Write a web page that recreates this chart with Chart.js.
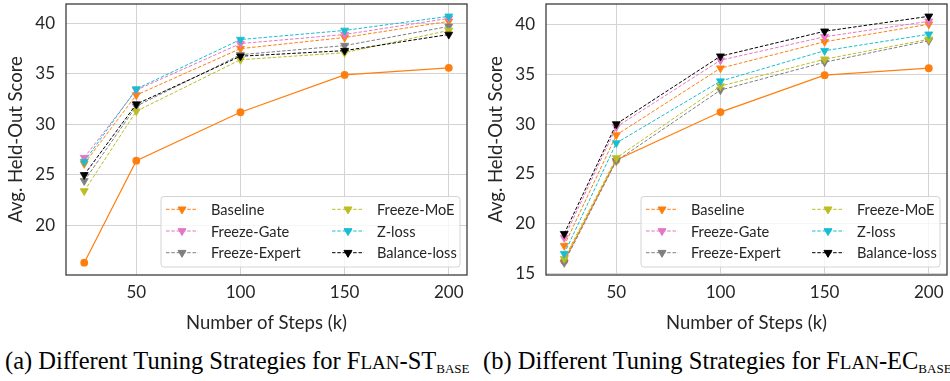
<!DOCTYPE html>
<html>
<head>
<meta charset="utf-8">
<script src="https://cdn.jsdelivr.net/npm/chart.js@4.4.0/dist/chart.umd.min.js"></script>
<style>
  body { margin: 0; background: #fff; width: 950px; height: 381px; overflow: hidden; position: relative; }
  .panel { position: absolute; top: 0; width: 470px; height: 340px; }
  .cap { position: absolute; top: 347px; font-family: "Liberation Serif", serif; font-size: 24.5px; color: #000; white-space: nowrap; line-height: 28px; }
  .sc { font-size: 19px; }
  .sub { font-size: 13px; position: relative; top: 4px; }
</style>
</head>
<body>
<div class="panel" style="left:0"><canvas id="chartA"></canvas></div>
<div class="panel" style="left:480px"><canvas id="chartB"></canvas></div>
<div class="cap" style="left:5px">(a) Different Tuning Strategies for F<span class="sc">LAN</span>-ST<span class="sub">BASE</span></div>
<div class="cap" style="left:483px">(b) Different Tuning Strategies for F<span class="sc">LAN</span>-EC<span class="sub">BASE</span></div>
<script>
// x values (k steps)
const steps = [25, 50, 100, 150, 200];
const xTicks = [50, 100, 150, 200];

// (a) FLAN-ST base
const baselineA     = [26.1, 32.9, 37.5, 38.6, 40.2];
const freezeGateA   = [26.7, 33.4, 38.0, 38.9, 40.5];
const freezeExpertA = [24.4, 31.8, 36.9, 37.8, 39.7];
const freezeMoeA    = [23.4, 31.3, 36.4, 37.1, 39.3];
const zLossA        = [26.3, 33.5, 38.4, 39.3, 40.7];
const balanceLossA  = [25.0, 32.0, 36.75, 37.3, 38.9];
const yTicksA = [20, 25, 30, 35, 40];

// (b) FLAN-EC base
const baselineB     = [17.8, 28.9, 35.6, 38.25, 40.0];
const freezeGateB   = [18.6, 29.7, 36.4, 38.75, 40.3];
const freezeExpertB = [16.1, 26.3, 33.4, 36.2, 38.35];
const freezeMoeB    = [16.5, 26.6, 33.8, 36.5, 38.5];
const zLossB        = [17.0, 28.1, 34.3, 37.35, 39.0];
const balanceLossB  = [19.0, 30.0, 36.8, 39.3, 40.8];
const yTicksB = [15, 20, 25, 30, 35, 40];

// solid orange reference line (same in both panels)
const dense = [16.3, 26.4, 31.2, 34.9, 35.6];

const names  = ['Baseline', 'Freeze-Gate', 'Freeze-Expert', 'Freeze-MoE', 'Z-loss', 'Balance-loss'];
const colors = ['#ff7f0e', '#e377c2', '#7f7f7f', '#bcbd22', '#17becf', '#000000'];

const textColor = '#262626';
const fontFam = 'Lato';

function pts(ys) { return ys.map((y, i) => ({x: steps[i], y: y})); }

function makeSets(series) {
  const sets = series.map((ys, i) => ({
    label: names[i],
    data: pts(ys),
    borderColor: colors[i],
    backgroundColor: colors[i],
    borderWidth: 1,
    borderDash: [3.5, 1.8],
    pointStyle: 'triangle',
    pointRotation: 180,
    pointRadius: 4.6,
    pointBorderWidth: 0.8,
    inLegend: true,
    order: series.length - i
  }));
  sets.push({
    label: 'Dense',
    data: pts(dense),
    borderColor: '#ff7f0e',
    backgroundColor: '#ff7f0e',
    borderWidth: 1.2,
    pointStyle: 'circle',
    pointRadius: 3.9,
    pointBorderWidth: 0,
    inLegend: false,
    order: 10
  });
  return sets;
}

// box around the plot area
const framePlugin = {
  id: 'frame',
  afterDraw(chart) {
    const a = chart.chartArea, ctx = chart.ctx;
    ctx.save();
    ctx.strokeStyle = '#3c3c3c';
    ctx.lineWidth = 1.3;
    ctx.strokeRect(a.left, a.top, a.right - a.left, a.bottom - a.top);
    ctx.restore();
  }
};

// matplotlib-like legend: 2 columns, filled column by column
const legendPlugin = {
  id: 'mplLegend',
  afterDatasetsDraw(chart) {
    const ctx = chart.ctx, a = chart.chartArea;
    const items = chart.data.datasets.filter(d => d.inLegend);
    const w = 299, h = 70.5;
    const x0 = a.right - 7 - w, y0 = a.bottom - 8 - h;
    ctx.save();
    ctx.fillStyle = 'rgba(255,255,255,0.8)';
    ctx.strokeStyle = '#d4d4d4';
    ctx.lineWidth = 1;
    ctx.beginPath();
    ctx.roundRect(x0, y0, w, h, 3);
    ctx.fill();
    ctx.stroke();
    ctx.font = '14.6px ' + fontFam;
    ctx.textBaseline = 'middle';
    items.forEach((d, i) => {
      const col = Math.floor(i / 3), row = i % 3;
      const sx = x0 + 5 + col * 166;
      const sy = y0 + 12.8 + row * 21.7;
      ctx.strokeStyle = d.borderColor;
      ctx.lineWidth = 1;
      ctx.setLineDash(d.borderDash);
      ctx.beginPath();
      ctx.moveTo(sx, sy);
      ctx.lineTo(sx + 32, sy);
      ctx.stroke();
      ctx.setLineDash([]);
      ctx.fillStyle = d.borderColor;
      Chart.helpers.drawPoint(ctx, {pointStyle: 'triangle', radius: 4.6, rotation: 180, borderWidth: 0.8}, sx + 16, sy);
      ctx.fillStyle = textColor;
      ctx.fillText(d.label, sx + 45, sy + 1);
    });
    ctx.restore();
  }
};

function yRange(series) {
  const all = series.flat().concat(dense);
  const lo = Math.min(...all), hi = Math.max(...all);
  const m = (hi - lo) * 0.05;
  return [lo - m, hi + m];
}

// no extra room for half tick labels at the ends of the axes
function noEdgePad(s) {
  s.paddingTop = 0; s.paddingBottom = 0; s.paddingLeft = 0; s.paddingRight = 0;
}

function makeChart(id, series, yTicks) {
  const [ymin, ymax] = yRange(series);
  return new Chart(document.getElementById(id), {
    type: 'line',
    data: { datasets: makeSets(series) },
    plugins: [legendPlugin, framePlugin],
    options: {
      responsive: true,
      maintainAspectRatio: false,
      animation: false,
      layout: { autoPadding: false, padding: { top: 4, right: 3, left: 0, bottom: 0 } },
      plugins: { legend: { display: false }, tooltip: { enabled: false } },
      scales: {
        x: {
          type: 'linear',
          min: 16.25,
          max: 208.75,
          afterBuildTicks: s => { s.ticks = xTicks.map(v => ({value: v})); },
          afterFit: s => { s.height = 65; noEdgePad(s); },
          grid: { color: '#d3d3d3', lineWidth: 1, drawTicks: false },
          border: { display: false },
          ticks: { padding: 7, color: textColor, font: { size: 17, family: fontFam } },
          title: { display: true, text: 'Number of Steps (k)', color: textColor,
                   font: { size: 18.5, family: fontFam }, padding: { top: 0, bottom: 6 } }
        },
        y: {
          min: ymin,
          max: ymax,
          afterBuildTicks: s => { s.ticks = yTicks.map(v => ({value: v})); },
          afterFit: s => { s.width = 66; noEdgePad(s); },
          grid: { color: '#d3d3d3', lineWidth: 1, drawTicks: false },
          border: { display: false },
          ticks: { padding: 11, color: textColor, font: { size: 17, family: fontFam } },
          title: { display: true, text: 'Avg. Held-Out Score', color: textColor,
                   font: { size: 18.5, family: fontFam }, padding: { top: 5, bottom: 0 } }
        }
      }
    }
  });
}

makeChart('chartA', [baselineA, freezeGateA, freezeExpertA, freezeMoeA, zLossA, balanceLossA], yTicksA);
makeChart('chartB', [baselineB, freezeGateB, freezeExpertB, freezeMoeB, zLossB, balanceLossB], yTicksB);
</script>
</body>
</html>
